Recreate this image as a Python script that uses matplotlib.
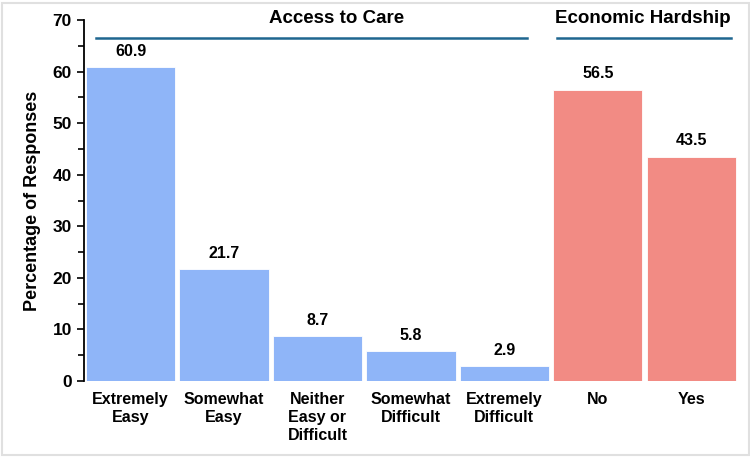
import matplotlib
matplotlib.use("Agg")
import matplotlib.pyplot as plt
from matplotlib.ticker import MultipleLocator

plt.rcParams['font.family'] = ['Liberation Sans', 'DejaVu Sans']

# Data
categories = ["Extremely\nEasy", "Somewhat\nEasy", "Neither\nEasy or\nDifficult",
              "Somewhat\nDifficult", "Extremely\nDifficult", "No", "Yes"]
values = [60.9, 21.7, 8.7, 5.8, 2.9, 56.5, 43.5]
groups = ["access", "access", "access", "access", "access", "hardship", "hardship"]
group_titles = {"access": "Access to Care", "hardship": "Economic Hardship"}

colors = {"access": "#8fb5f8", "hardship": "#f28b84"}
line_color = "#1f6690"

fig = plt.figure(figsize=(7.5, 4.57), dpi=100)
ax = fig.add_axes([0.1117, 0.1663, 0.8723, 0.7897])

x = list(range(len(values)))
bars = ax.bar(x, values, width=0.955, color=[colors[g] for g in groups],
              edgecolor="white", linewidth=0.6)

for xi, v in zip(x, values):
    ax.annotate(f"{v:.1f}", (xi, v), xytext=(0, 6), textcoords="offset points",
                ha="center", va="bottom", fontsize=11.5, fontweight="bold")

ax.set_xlim(-0.5, 6.5)
ax.set_ylim(0, 70)
ax.yaxis.set_major_locator(MultipleLocator(10))
ax.yaxis.set_minor_locator(MultipleLocator(5))
ax.tick_params(axis="y", which="major", length=5, width=1.2, labelsize=12.5)
ax.tick_params(axis="y", which="minor", length=4, width=1.2)
ax.tick_params(axis="x", length=0, labelsize=11.5, pad=8)
for lab in ax.get_yticklabels():
    lab.set_fontweight("bold")

ax.set_xticks(x)
ax.set_xticklabels(categories, fontweight="bold", linespacing=1.25, va="top")

for s in ["top", "right", "bottom"]:
    ax.spines[s].set_visible(False)
ax.spines["left"].set_linewidth(1.3)

ax.set_ylabel("Percentage of Responses", fontsize=13, fontweight="bold", labelpad=8)

# group brackets
ax.plot([-0.37, 4.24], [66.5, 66.5], color=line_color, lw=1.8, clip_on=False)
ax.plot([4.56, 6.42], [66.5, 66.5], color=line_color, lw=1.8, clip_on=False)
ax.text(2.2, 70.4, group_titles["access"], ha="center", va="center",
        fontsize=13.5, fontweight="bold", clip_on=False)
ax.text(5.48, 70.4, group_titles["hardship"], ha="center", va="center",
        fontsize=13.5, fontweight="bold", clip_on=False)

fig.patches.append(plt.Rectangle((0.002, 0.004), 0.996, 0.99, transform=fig.transFigure,
                                 fill=False, edgecolor="#e0e0e0", lw=1.5))

fig.savefig("out.png", dpi=100)
